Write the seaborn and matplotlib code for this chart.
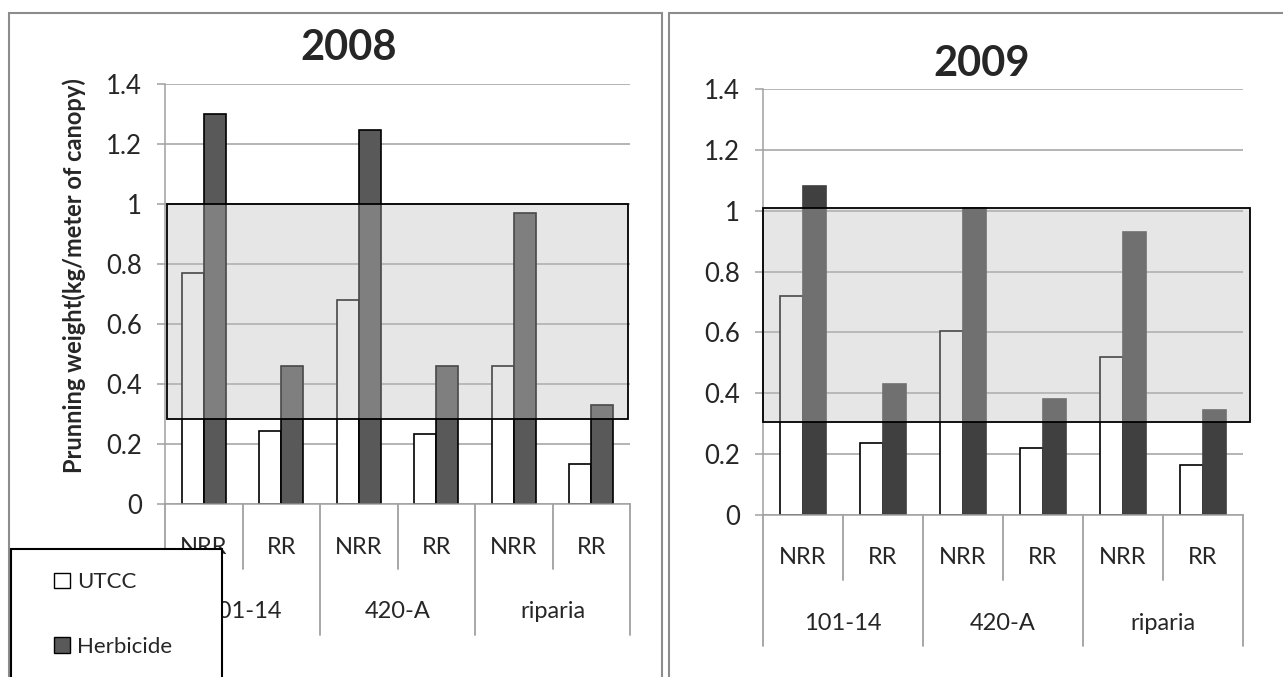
import numpy as np
import pandas as pd
import matplotlib
matplotlib.use('Agg')
import matplotlib.pyplot as plt
import matplotlib.transforms as mtransforms
from matplotlib.patches import Rectangle, Patch
import seaborn as sns

# Data
rootstocks = ['101-14', '420-A', 'riparia']
sub_labels = ['NRR', 'RR']
treatments = ['UTCC', 'Herbicide']

utcc_2008 = [0.77, 0.245, 0.68, 0.235, 0.46, 0.135]
herb_2008 = [1.30, 0.46, 1.245, 0.46, 0.97, 0.33]
utcc_2009 = [0.72, 0.235, 0.605, 0.22, 0.52, 0.165]
herb_2009 = [1.08, 0.43, 1.01, 0.38, 0.93, 0.345]

# highlighted band (y range) on each chart
band_2008 = [0.285, 1.0]
band_2009 = [0.305, 1.01]

y_ticks = [0, 0.2, 0.4, 0.6, 0.8, 1.0, 1.2, 1.4]
y_tick_labels = ['0', '0.2', '0.4', '0.6', '0.8', '1', '1.2', '1.4']

W, H = 1283, 677
GRID = '#a0a0a0'

sns.set_style('white')
plt.rcParams['font.family'] = ['Lato', 'DejaVu Sans']


def make_df(utcc, herb):
    cats = [f'{r} {s}' for r in rootstocks for s in sub_labels]
    rows = []
    for c, u, h in zip(cats, utcc, herb):
        rows.append({'cat': c, 'treatment': 'UTCC', 'value': u})
        rows.append({'cat': c, 'treatment': 'Herbicide', 'value': h})
    return pd.DataFrame(rows), cats


def px_axes(x0, y0, x1, y1):
    return [x0 / W, 1 - y1 / H, (x1 - x0) / W, (y1 - y0) / H]


def draw_panel(ax, utcc, herb, herb_color, herb_edge, band, band_x, ax_h):
    df, cats = make_df(utcc, herb)
    sns.barplot(data=df, x='cat', y='value', hue='treatment', order=cats,
                hue_order=treatments,
                palette={'UTCC': 'white', 'Herbicide': herb_color},
                width=0.57, gap=0, saturation=1, errorbar=None,
                edgecolor='black', linewidth=1.2, legend=False, ax=ax)
    for bar in ax.containers[1]:
        bar.set_edgecolor(herb_edge)

    ax.set_xlim(-0.5, 5.5)
    ax.set_ylim(0, 1.4)
    ax.set_yticks(y_ticks)
    ax.set_yticklabels(y_tick_labels)
    ax.set_xticks([])
    ax.set_xlabel('')
    ax.set_ylabel('')
    ax.set_axisbelow(True)
    ax.yaxis.grid(True, color=GRID, lw=1.1)
    ax.tick_params(axis='y', length=5.8, width=1.1, color=GRID, pad=11,
                   labelsize=18.5, left=True)
    for s in ['top', 'right']:
        ax.spines[s].set_visible(False)
    for s in ['left', 'bottom']:
        ax.spines[s].set_color(GRID)
        ax.spines[s].set_linewidth(1.1)

    # highlighted band
    ax.add_patch(Rectangle((band_x[0], band[0]), band_x[1] - band_x[0],
                           band[1] - band[0],
                           facecolor=(0.745, 0.745, 0.745, 0.386),
                           edgecolor='black', lw=1.3, zorder=5, clip_on=False))

    # multi-level category axis
    trans = mtransforms.blended_transform_factory(ax.transData, ax.transAxes)
    sub_len, grp_len = 65 / ax_h, 131 / ax_h
    for i in range(7):
        b = i - 0.5
        ln = grp_len if i % 2 == 0 else sub_len
        ax.plot([b, b], [0, -ln], transform=trans, color=GRID, lw=1.3,
                clip_on=False)
    for i in range(6):
        ax.text(i, -43 / ax_h, sub_labels[i % 2], transform=trans,
                ha='center', va='center', fontsize=17)
    for g, name in enumerate(rootstocks):
        ax.text(2 * g + 0.5, -108 / ax_h, name, transform=trans,
                ha='center', va='center', fontsize=17)


fig = plt.figure(figsize=(W / 100, H / 100), dpi=100)

# panel frames
fig.add_artist(Rectangle((9 / W, -0.1), (662 - 9) / W, 1.1 - 13 / H,
                         transform=fig.transFigure, fill=False,
                         edgecolor='#8c8c8c', lw=1.5, zorder=-1))
fig.add_artist(Rectangle((669 / W, -0.1), 0.6, 1.1 - 13 / H,
                         transform=fig.transFigure, fill=False,
                         edgecolor='#8c8c8c', lw=1.5, zorder=-1))

ax1 = fig.add_axes(px_axes(165, 84, 630, 504))
draw_panel(ax1, utcc_2008, herb_2008, '#595959', 'black', band_2008,
           (-0.47, 5.47), 420)

ax2 = fig.add_axes(px_axes(763, 89, 1243, 515))
draw_panel(ax2, utcc_2009, herb_2009, '#404040', '#404040', band_2009,
           (-0.5, 5.59), 426)

fig.text(349 / W, 1 - 48 / H, '2008', fontsize=30, fontweight='bold',
         ha='center', va='center')
fig.text(982 / W, 1 - 64 / H, '2009', fontsize=30, fontweight='bold',
         ha='center', va='center')
fig.text(74 / W, 1 - 276 / H, 'Prunning weight(kg/meter of canopy)',
         rotation=90, ha='center', va='center', fontsize=17,
         fontweight='bold')

# legend box (overlaps the left chart like in the original)
fig.add_artist(Rectangle((11 / W, -0.1), (222 - 11) / W, 1.1 - 549 / H,
                         transform=fig.transFigure, facecolor='white',
                         edgecolor='black', lw=1.5, zorder=10))
handles = [Patch(facecolor='white', edgecolor='black'),
           Patch(facecolor='#595959', edgecolor='black')]
leg = fig.legend(handles, treatments, loc='center left',
                 bbox_to_anchor=(54 / W, 1 - 614.5 / H), frameon=False,
                 fontsize=16, handlelength=0.72, handleheight=0.72,
                 handletextpad=0.3, labelspacing=2.0, borderpad=0,
                 borderaxespad=0)
leg.set_zorder(11)

fig.savefig('out.png', dpi=100)
